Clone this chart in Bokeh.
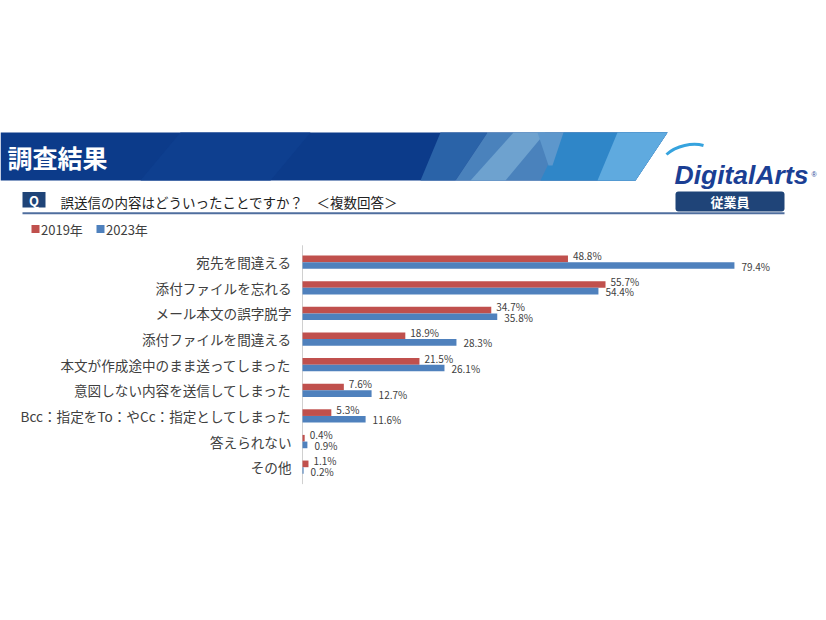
from bokeh.plotting import figure
from bokeh.models import Range1d, ColumnDataSource, BoxAnnotation
from bokeh.transform import dodge
from bokeh.embed import file_html
from bokeh.resources import INLINE
from bokeh.core.properties import value

# ---------------- data ----------------
categories = [
    "宛先を間違える",
    "添付ファイルを忘れる",
    "メール本文の誤字脱字",
    "添付ファイルを間違える",
    "本文が作成途中のまま送ってしまった",
    "意図しない内容を送信してしまった",
    "Bcc：指定をTo：やCc：指定としてしまった",
    "答えられない",
    "その他",
]
series_names = ["2019年", "2023年"]
v2019 = [48.8, 55.7, 34.7, 18.9, 21.5, 7.6, 5.3, 0.4, 1.1]
v2023 = [79.4, 54.4, 35.8, 28.3, 26.1, 12.7, 11.6, 0.9, 0.2]
title_text = "調査結果"
question_text = "誤送信の内容はどういったことですか？　＜複数回答＞"
badge_text = "従業員"
brand_text = "DigitalArts"

# ---------------- styles / layout ----------------
FONT = "Noto Sans CJK JP"
RED = "#C0504D"
BLUE = "#4F81BD"
NAVY = "#1F4478"
TXT = "#404040"
W, H = 818, 612          # canvas; screen coordinates 0..W, 0..H
X0 = 302                 # screen x of the value axis (0 %)
PX_PER_PCT = 5.44
ROW0 = 261.7             # screen y of first category centre
ROW_PX = 25.625

p = figure(width=W, height=H, x_range=Range1d(0, W), y_range=Range1d(H, 0),
           output_backend="svg", toolbar_location=None,
           x_axis_location=None, y_axis_location=None, min_border=0)
p.grid.visible = False
p.outline_line_color = None
p.background_fill_color = "white"

# chart scales (linear % for x, category index for y)
p.extra_x_ranges = {"pct": Range1d(-X0 / PX_PER_PCT, (W - X0) / PX_PER_PCT)}
p.extra_y_ranges = {"idx": Range1d((H - ROW0) / ROW_PX, -ROW0 / ROW_PX)}

# ---------------- header ----------------
T, B = 132, 180
banner_xs = [
    [0, 667, 635, 0],
    [180, 310, 270, 140],
    [440, 487, 455, 420],
    [487, 667, 635, 455],
    [513, 545, 505, 470],
    [563, 667, 635, 540],
    [537, 563, 552, 548],
    [617, 667, 635, 597],
]
banner_ys = [
    [T, T, B, B],
    [T, T, B, B],
    [T, T, B, B],
    [T, T, B, B],
    [T, T, B, B],
    [T, T, B, B],
    [T, T, 165, 165],
    [T, T, B, B],
]
banner_cols = ["#0C3B8A", "#0E3F8F", "#2A63A8", "#4A82BC", "#6EA2CF",
               "#2F86C8", "#5D97CC", "#5FAADF"]
p.patches(xs=banner_xs, ys=banner_ys, fill_color=banner_cols, line_color=None)

p.text(x=[7], y=[156], text=[title_text], text_font=value(FONT), text_font_size="25px",
       text_font_style="bold", text_color="white", text_baseline="middle", text_align="left")

# logo
p.bezier(x0=[666], y0=[154], x1=[703], y1=[145], cx0=[676], cy0=[145], cx1=[692], cy1=[142],
         line_color="#36A3DE", line_width=3)
p.text(x=[674], y=[174], text=[brand_text], text_font=value("Liberation Sans"),
       text_font_size="26.5px", text_font_style="bold italic", text_color="#1B3F94",
       text_baseline="alphabetic", text_align="left")
p.text(x=[811], y=[174], text=["®"], text_font=value("Liberation Sans"),
       text_font_size="7px", text_color="#1B3F94", text_baseline="alphabetic")

# question row
p.quad(left=[22], right=[45], top=[191.5], bottom=[207], fill_color=NAVY, line_color=None)
p.text(x=[33.5], y=[199.5], text=["Q"], text_font=value(FONT), text_font_size="13px",
       text_font_style="bold", text_color="white", text_baseline="middle", text_align="center")
p.text(x=[60], y=[201], text=[question_text], text_font=value(FONT), text_font_size="13.5px",
       text_color="#222222", text_baseline="middle", text_align="left")
p.add_layout(BoxAnnotation(left=675, right=784, top=191, bottom=211, fill_color=NAVY,
                           fill_alpha=1, line_color=None, border_radius=3, level="underlay"))
p.text(x=[729.5], y=[201], text=[badge_text], text_font=value(FONT), text_font_size="13px",
       text_font_style="bold", text_color="white", text_baseline="middle", text_align="center")
p.line(x=[22, 784], y=[212.8, 212.8], line_color="#4F6E9E", line_width=2)

# legend
p.quad(left=[31, 96], right=[39, 104], top=[224.5, 224.5], bottom=[232.5, 232.5],
       fill_color=[RED, BLUE], line_color=None)
p.text(x=[40.5, 105.5], y=[228.5, 228.5], text=series_names, text_font=value(FONT),
       text_font_size="13px", text_color=TXT, text_baseline="middle", text_align="left")

# ---------------- chart ----------------
src = ColumnDataSource(dict(
    idx=list(range(len(categories))),
    cat=categories,
    r=v2019,
    b=v2023,
    rl=[f"{v:.1f}%" for v in v2019],
    bl=[f"{v:.1f}%" for v in v2023],
))

# value axis line
p.segment(x0=[0], y0=[-0.66], x1=[0], y1=[len(categories) - 0.34], line_color="#D0D0D0",
          line_width=1, x_range_name="pct", y_range_name="idx")

OFF = 0.13
p.hbar(y=dodge("idx", -OFF), left=0, right="r", height=0.26, fill_color=RED, line_color=None,
       source=src, x_range_name="pct", y_range_name="idx")
p.hbar(y=dodge("idx", OFF), left=0, right="b", height=0.26, fill_color=BLUE, line_color=None,
       source=src, x_range_name="pct", y_range_name="idx")
p.text(x="r", y=dodge("idx", -OFF - 0.13), text="rl", x_offset=5,
       text_font=value(FONT), text_font_size="10px", text_color=TXT,
       text_baseline="middle", text_align="left", source=src,
       x_range_name="pct", y_range_name="idx")
p.text(x="b", y=dodge("idx", OFF + 0.02), text="bl", x_offset=7,
       text_font=value(FONT), text_font_size="10px", text_color=TXT,
       text_baseline="middle", text_align="left", source=src,
       x_range_name="pct", y_range_name="idx")

# category labels
p.text(x=0, y="idx", text="cat", x_offset=-11, text_font=value(FONT),
       text_font_size="13.6px", text_color=TXT, text_baseline="middle", text_align="right",
       source=src, x_range_name="pct", y_range_name="idx")

open("out.html", "w").write(file_html(p, INLINE, title="chart"))
